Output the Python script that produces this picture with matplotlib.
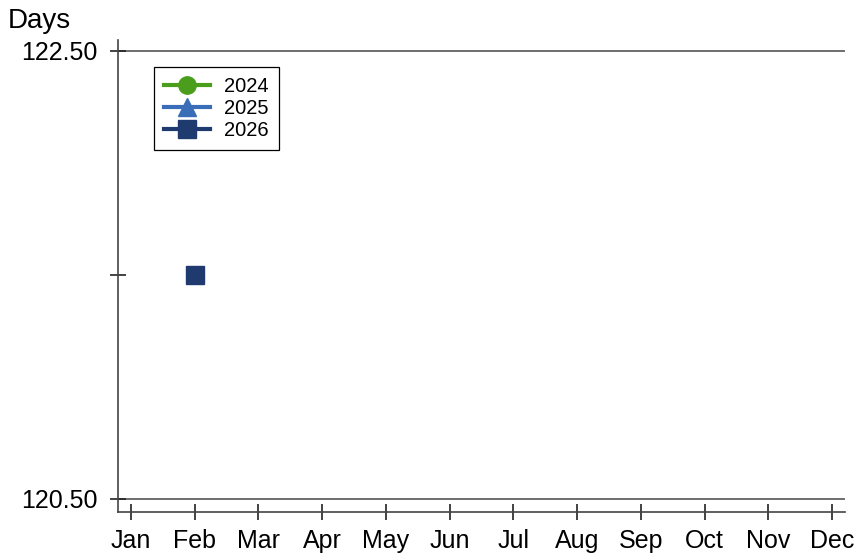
import matplotlib.pyplot as plt
import numpy as np

plt.rcParams['font.family'] = ['Liberation Sans', 'DejaVu Sans']

months = ['Jan', 'Feb', 'Mar', 'Apr', 'May', 'Jun', 'Jul', 'Aug', 'Sep', 'Oct', 'Nov', 'Dec']
x = np.arange(1, 13)

nan = np.nan
days_2024 = [nan] * 12
days_2025 = [nan] * 12
days_2026 = [nan, 121.5, nan, nan, nan, nan, nan, nan, nan, nan, nan, nan]

series = [
    ('2024', days_2024, '#4a9e1c', 'o'),
    ('2025', days_2025, '#3a6db8', '^'),
    ('2026', days_2026, '#1f3a6e', 's'),
]

fig = plt.figure(figsize=(8.56, 5.55), dpi=100)
ax = fig.add_axes([118 / 856, 43 / 555, 727 / 856, 472 / 555])

for label, vals, color, marker in series:
    ax.plot(x, vals, color=color, marker=marker, linewidth=3, markersize=12.5,
            label=label)

ax.set_xlim(1 - 13 / 63.7, 12 + 13 / 63.7)
ax.set_ylim(120.5 - 13 / 224, 122.5 + 11 / 224)

ax.set_yticks([120.5, 121.5, 122.5])
ax.set_yticklabels(['120.50', '', '122.50'])
ax.set_xticks(x)
ax.set_xticklabels(months)

for yv in [120.5, 122.5]:
    ax.axhline(yv, color='#555555', linewidth=1.2, zorder=0)

for s in ['top', 'right']:
    ax.spines[s].set_visible(False)
for s in ['left', 'bottom']:
    ax.spines[s].set_color('#444444')
    ax.spines[s].set_linewidth(1.2)

ax.tick_params(axis='both', direction='inout', length=12, width=1.2,
               color='#222222', labelsize=18)
ax.tick_params(axis='y', pad=9)
ax.tick_params(axis='x', pad=6)

fig.text(8 / 856, 1 - 21 / 555, 'Days', fontsize=20, va='center', ha='left')

leg = ax.legend(loc='upper left', bbox_to_anchor=(0.0495, 0.943), fontsize=14.5,
                handlelength=2.3, labelspacing=0.15, borderpad=0.5,
                handletextpad=0.7, fancybox=False, framealpha=1,
                borderaxespad=0)
leg.get_frame().set_edgecolor('black')
leg.get_frame().set_linewidth(0.9)

plt.savefig('out.png', dpi=100)
